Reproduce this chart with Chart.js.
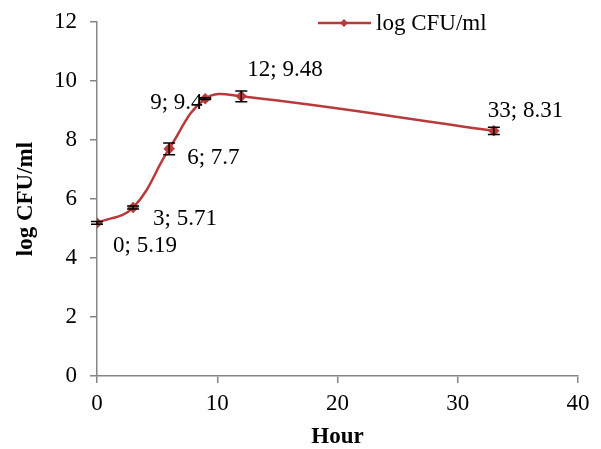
<!DOCTYPE html>
<html>
<head>
<meta charset="utf-8">
<script src="https://cdn.jsdelivr.net/npm/chart.js@4"></script>
<style>
  html, body { margin: 0; padding: 0; background: #fff; }
  #wrap { width: 601px; height: 449px; }
</style>
</head>
<body>
<div id="wrap"><canvas id="growthChart" width="601" height="449"></canvas></div>
<script>
// values
const hours = [0, 3, 6, 9, 12, 33];
const logCfu = [5.19, 5.71, 7.7, 9.4, 9.48, 8.31];
const errors = [0.05, 0.05, 0.2, 0.03, 0.18, 0.12];
const seriesName = "log CFU/ml";
const xTicks = [0, 10, 20, 30, 40];
const yTicks = [0, 2, 4, 6, 8, 10, 12];

const RED = '#B83B3B';
const AXIS = '#868686';
const FONT = "'Liberation Serif', 'Times New Roman', serif";

// where each data label sits relative to its point (px)
const labelOffsets = [[16, 23], [20, 11], [18, 9], [-55, 4], [6, -26], [-6, -20]];

const extras = {
    id: 'extras',
    afterDatasetsDraw(chart) {
        const ctx = chart.ctx;
        const xs = chart.scales.x, ys = chart.scales.y;
        ctx.save();
        // error bars
        ctx.strokeStyle = '#000';
        ctx.lineWidth = 1.5;
        hours.forEach((h, i) => {
            const px = xs.getPixelForValue(h);
            const top = ys.getPixelForValue(logCfu[i] + errors[i]);
            const bot = ys.getPixelForValue(logCfu[i] - errors[i]);
            ctx.beginPath();
            ctx.moveTo(px, top); ctx.lineTo(px, bot);
            ctx.moveTo(px - 6, top); ctx.lineTo(px + 6, top);
            ctx.moveTo(px - 6, bot); ctx.lineTo(px + 6, bot);
            ctx.stroke();
        });
        // data labels
        ctx.fillStyle = '#000';
        ctx.font = '23px ' + FONT;
        ctx.textBaseline = 'middle';
        ctx.textAlign = 'left';
        hours.forEach((h, i) => {
            const px = xs.getPixelForValue(h);
            const py = ys.getPixelForValue(logCfu[i]);
            ctx.fillText(h + '; ' + logCfu[i], px + labelOffsets[i][0], py + labelOffsets[i][1]);
        });
        // legend
        const lx = 318, ly = 23;
        ctx.strokeStyle = RED;
        ctx.lineWidth = 2.5;
        ctx.beginPath(); ctx.moveTo(lx, ly); ctx.lineTo(lx + 53, ly); ctx.stroke();
        ctx.fillStyle = RED;
        ctx.beginPath();
        ctx.moveTo(lx + 26, ly - 4); ctx.lineTo(lx + 30, ly); ctx.lineTo(lx + 26, ly + 4); ctx.lineTo(lx + 22, ly);
        ctx.closePath(); ctx.fill();
        ctx.fillStyle = '#000';
        ctx.fillText(seriesName, lx + 58, ly + 1);
        ctx.restore();
    }
};

const tickFont = { family: FONT, size: 23 };
const titleFont = { family: FONT, size: 23, weight: 'bold', lineHeight: 1 };

new Chart(document.getElementById('growthChart'), {
    type: 'line',
    data: {
        datasets: [{
            label: seriesName,
            data: hours.map((h, i) => ({ x: h, y: logCfu[i] })),
            borderColor: RED,
            backgroundColor: RED,
            borderWidth: 2.5,
            pointStyle: 'rectRot',
            pointRadius: 4,
            pointBackgroundColor: RED,
            pointBorderColor: RED,
            tension: 0.4,
            fill: false
        }]
    },
    options: {
        responsive: false,
        animation: false,
        layout: { padding: { top: 22, right: 23, left: 0, bottom: 0 } },
        plugins: { legend: { display: false }, tooltip: { enabled: false } },
        scales: {
            x: {
                type: 'linear', min: 0, max: 40,
                afterBuildTicks: s => { s.ticks = xTicks.map(v => ({ value: v })); },
                afterFit: s => { s.height = 73; },
                grid: { drawOnChartArea: false, drawTicks: true, tickLength: 7, color: AXIS, lineWidth: 1.5 },
                border: { color: AXIS, width: 1.5 },
                ticks: { color: '#000', font: tickFont, padding: 7, maxRotation: 0 },
                title: { display: true, text: 'Hour', color: '#000', font: titleFont, padding: { top: 0, bottom: 0 } }
            },
            y: {
                min: 0, max: 12,
                afterBuildTicks: s => { s.ticks = yTicks.map(v => ({ value: v })); },
                afterFit: s => { s.width = 97; s.paddingTop = 0; s.paddingBottom = 0; },
                grid: { drawOnChartArea: false, drawTicks: true, tickLength: 7, color: AXIS, lineWidth: 1.5 },
                border: { color: AXIS, width: 1.5 },
                ticks: { color: '#000', font: tickFont, padding: 13 },
                title: { display: true, text: 'log CFU/ml', color: '#000', font: titleFont, padding: { top: 15, bottom: 0 } }
            }
        }
    },
    plugins: [extras]
});
</script>
</body>
</html>
